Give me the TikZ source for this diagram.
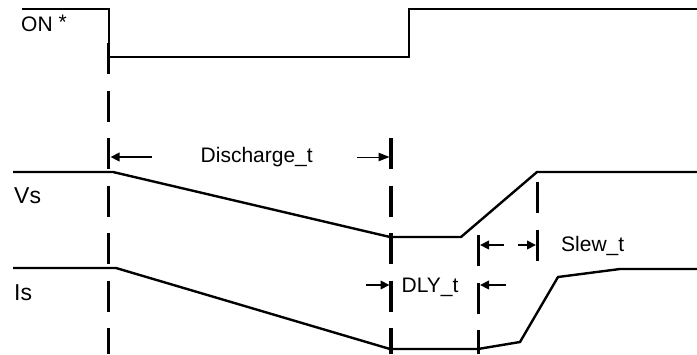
\documentclass[tikz,border=0pt]{standalone}
\usepackage{fontspec}
\setmainfont{Liberation Sans}
\usetikzlibrary{arrows.meta}
\begin{document}
\begin{tikzpicture}[x=1pt,y=-1pt,
  sig/.style={line width=2.4pt,line join=miter},
  tick/.style={line width=3.4pt,dash pattern=on 31pt off 16.5pt},
  dim/.style={line width=2.4pt,-{Triangle[length=9pt,width=8.5pt]}},
  dimthin/.style={line width=1pt,-{Triangle[length=11pt,width=8.5pt]}},
  lbl/.style={anchor=base west,inner sep=0pt,font=\fontsize{21}{25}\selectfont},
  sublbl/.style={anchor=base west,inner sep=0pt,font=\fontsize{23}{27}\selectfont}]
\useasboundingbox (0,0) rectangle (697,354);
% signals
\draw[sig] (22,9) -- (109,9) -- (109,57) -- (409,57) -- (409,9) -- (697,9);
\draw[sig] (13,172) -- (113,172) -- (390,237) -- (461,237) -- (537,172) -- (697,172);
\draw[sig] (13,268) -- (116,268) -- (390,349) -- (478,349) -- (520,342) -- (558,277) -- (620,269) -- (697,269);
% dashed markers
\coordinate (m1t) at (108.5,43);  \coordinate (m1b) at (108.5,354);
\coordinate (m2t) at (391,138);   \coordinate (m2b) at (391,354);
\coordinate (m3t) at (478.5,235); \coordinate (m3b) at (478.5,354);
\coordinate (m4t) at (537.5,182); \coordinate (m4b) at (537.5,262);
\draw[tick] (m1t) -- (m1b);
\draw[tick] (m2t) -- (m2b);
\draw[tick] (m3t) -- (m3b);
\draw[tick] (m4t) -- (m4b);
% dimension arrows
\coordinate (a1s) at (152,157);  \coordinate (a1e) at (110.5,157);
\coordinate (a2s) at (357,157);  \coordinate (a2e) at (389.5,157);
\coordinate (d1s) at (366,285);  \coordinate (d1e) at (389.5,285);
\coordinate (d2s) at (506,285);  \coordinate (d2e) at (480,285);
\coordinate (s1s) at (504,245);  \coordinate (s1e) at (480,245);
\coordinate (s2s) at (518,245);  \coordinate (s2e) at (536,245);
\draw[dim] (a1s) -- (a1e);
\draw[dimthin] (a2s) -- (a2e);
\draw[dim] (d1s) -- (d1e);
\draw[dim] (d2s) -- (d2e);
\draw[dim] (s1s) -- (s1e);
\draw[dim] (s2s) -- (s2e);
% labels
\node[lbl] (on) at (21,31) {ON \raisebox{2pt}{*}};
\node[lbl] (dis) at (200.5,162) {Discharge\_t};
\node[sublbl] (vs) at (14,203) {Vs};
\node[sublbl] (is) at (14,300) {Is};
\node[lbl] (dly) at (401.5,292) {DLY\_t};
\node[lbl] (slew) at (561,251) {Slew\_t};
\end{tikzpicture}
\end{document}
